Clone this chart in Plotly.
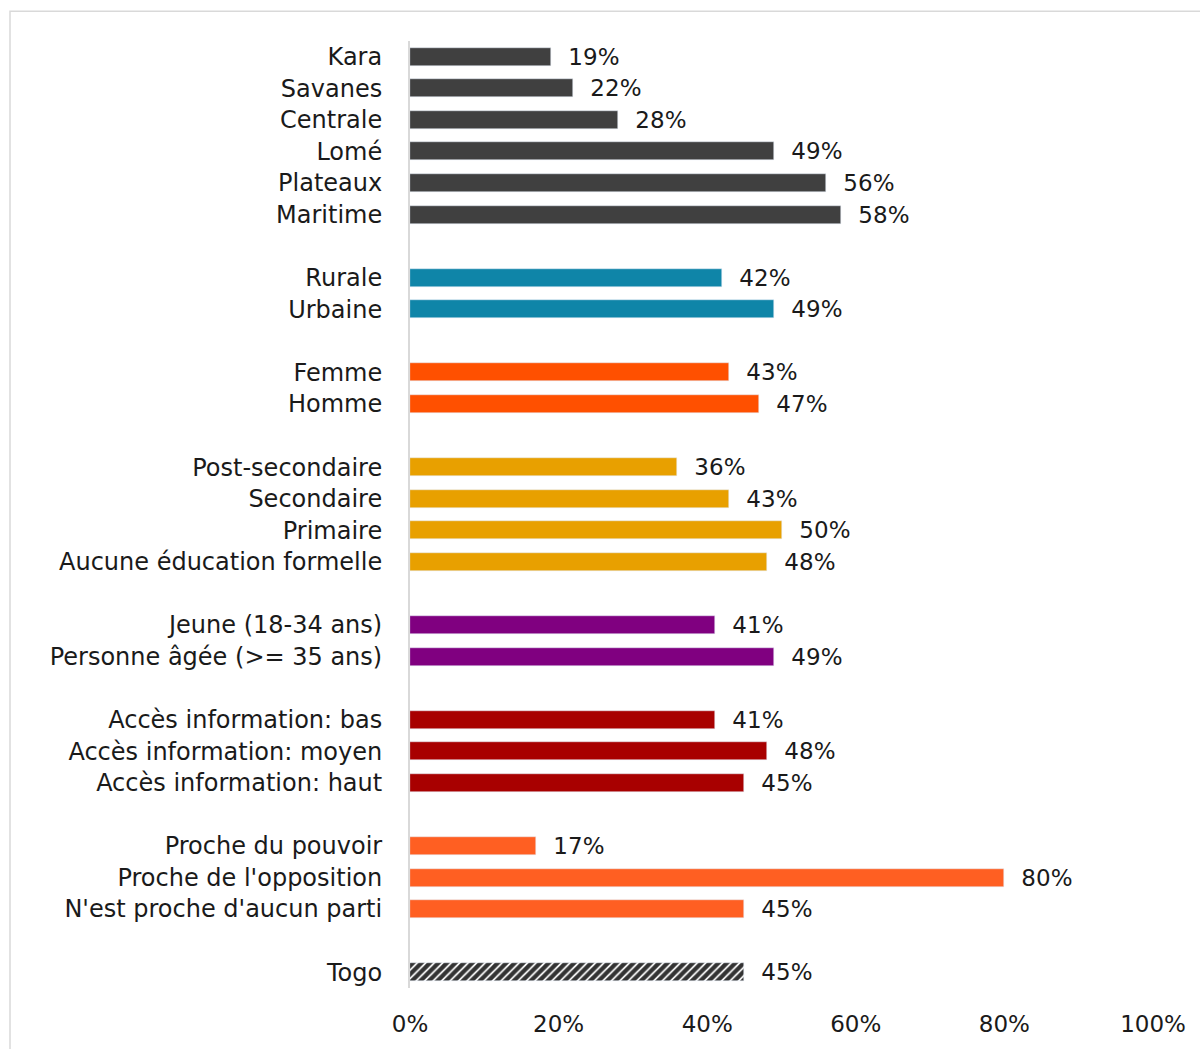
import plotly.graph_objects as go

# Groups of categories, drawn top to bottom with a blank row between groups
regions = ["Kara", "Savanes", "Centrale", "Lomé", "Plateaux", "Maritime"]
regions_vals = [19, 22, 28, 49, 56, 58]

milieu = ["Rurale", "Urbaine"]
milieu_vals = [42, 49]

genre = ["Femme", "Homme"]
genre_vals = [43, 47]

education = ["Post-secondaire", "Secondaire", "Primaire", "Aucune éducation formelle"]
education_vals = [36, 43, 50, 48]

age = ["Jeune (18-34 ans)", "Personne âgée (>= 35 ans)"]
age_vals = [41, 49]

information = ["Accès information: bas", "Accès information: moyen", "Accès information: haut"]
information_vals = [41, 48, 45]

partisan = ["Proche du pouvoir", "Proche de l'opposition", "N'est proche d'aucun parti"]
partisan_vals = [17, 80, 45]

national = ["Togo"]
national_vals = [45]

x_ticks = [0, 20, 40, 60, 80, 100]
x_tick_labels = ["0%", "20%", "40%", "60%", "80%", "100%"]

groups = [
    (regions, regions_vals, "#404040"),
    (milieu, milieu_vals, "#0F85A8"),
    (genre, genre_vals, "#FF5000"),
    (education, education_vals, "#E8A000"),
    (age, age_vals, "#800080"),
    (information, information_vals, "#A80000"),
    (partisan, partisan_vals, "#FF5F22"),
    (national, national_vals, None),
]

FONT = "DejaVu Sans"
fig = go.Figure()

tickvals, ticktext = [], []
pos = 0
for labels, vals, color in groups:
    ys = list(range(pos, pos + len(labels)))
    tickvals += ys
    ticktext += labels
    if color is None:
        # hatched national average bar
        marker = dict(color="#333333",
                      pattern=dict(shape="/", fgcolor="#333333", bgcolor="white",
                                   fgopacity=1, size=6, solidity=0.7,
                                   fillmode="replace"))
    else:
        marker = dict(color=color)
    fig.add_trace(go.Bar(
        x=vals, y=ys, orientation="h", width=0.57, marker=marker,
        text=[f"\u00a0\u00a0{v}%" for v in vals], textposition="outside",
        constraintext="none", cliponaxis=False,
        textfont=dict(family=FONT, size=23, color="#1a1a1a"),
        hoverinfo="skip", showlegend=False,
    ))
    pos += len(labels) + 1

n_rows = pos - 1

fig.update_layout(
    width=1200, height=1049,
    margin=dict(l=410, r=47, t=41, b=56),
    paper_bgcolor="white", plot_bgcolor="white",
    font=dict(family=FONT, size=23, color="#1a1a1a"),
    bargap=0,
    xaxis=dict(range=[0, 100], tickvals=x_ticks, ticktext=x_tick_labels,
               showgrid=False, zeroline=False, showline=False,
               ticks="", ticklabelstandoff=20,
               tickfont=dict(family=FONT, size=23, color="#1a1a1a")),
    yaxis=dict(range=[n_rows - 0.5, -0.5], tickvals=tickvals, ticktext=ticktext,
               showgrid=False, zeroline=False, showline=True,
               linecolor="#D9D9D9", linewidth=2, ticks="", ticklabelstandoff=21,
               tickfont=dict(family=FONT, size=24, color="#1a1a1a")),
    shapes=[dict(type="rect", xref="paper", yref="paper",
                 x0=-400 / 743, x1=1.08, y0=-0.08, y1=1 + 30 / 952,
                 line=dict(color="#D9D9D9", width=1.5), layer="below")],
)

fig.write_html("out.html")
